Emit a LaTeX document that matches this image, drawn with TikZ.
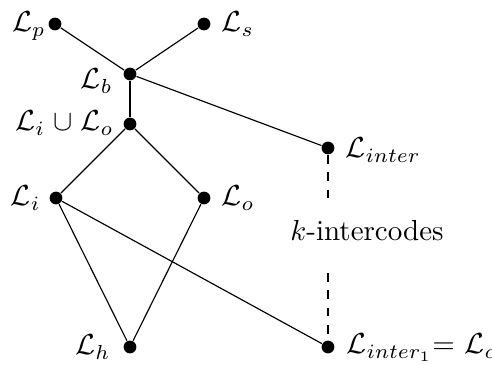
\documentclass[tikz,border=0pt]{standalone}
\begin{document}
\begin{tikzpicture}[x=0.345pt,y=-0.345pt,
  vtx/.style={circle,fill=black,inner sep=0pt,minimum size=4.4pt},
  lab/.style={inner sep=0pt},
  edge/.style={line width=0.4pt},
  dashedge/.style={line width=0.4pt,dashed}]
\useasboundingbox (0,0) rectangle (492,365);
% vertices
\node[vtx] (p) at (55,24) {};
\node[vtx] (s) at (204,24) {};
\node[vtx] (b) at (130,74) {};
\node[vtx] (io) at (130,124) {};
\node[vtx] (inter) at (328,148) {};
\node[vtx] (i) at (56,198) {};
\node[vtx] (o) at (204,198) {};
\node[vtx] (h) at (130,347) {};
\node[vtx] (inter1) at (328,347) {};
% labels
\node[lab,anchor=base east] (lp) at (46,32) {$\mathcal{L}_p$};
\node[lab,anchor=base west] (ls) at (221,32) {$\mathcal{L}_s$};
\node[lab,anchor=base east] (lb) at (113,89) {$\mathcal{L}_b$};
\node[lab,anchor=base east] (lio) at (114,131) {$\mathcal{L}_i\mathrel{\cup}\mathcal{L}_o$};
\node[lab,anchor=base west] (linter) at (345,158) {$\mathcal{L}_{inter}$};
\node[lab,anchor=base east] (li) at (41,206) {$\mathcal{L}_i$};
\node[lab,anchor=base west] (lo) at (221,206) {$\mathcal{L}_o$};
\node[lab,anchor=base east] (lh) at (111,355) {$\mathcal{L}_h$};
\node[lab,anchor=base west] (linter1) at (346,354) {$\mathcal{L}_{inter_1}$= $\mathcal{L}_c$};
\node[lab,anchor=base] (kint) at (367,241) {$k$-intercodes};
% edges
\draw[edge] (p) -- (b);
\draw[edge] (s) -- (b);
\draw[edge] (b) -- (io);
\draw[edge] (b) -- (inter);
\draw[edge] (io) -- (i);
\draw[edge] (io) -- (o);
\draw[edge] (i) -- (h);
\draw[edge] (o) -- (h);
\draw[edge] (i) -- (inter1);
\coordinate (d1) at (328,198);
\coordinate (d2) at (328,273);
\draw[dashedge] (inter) -- (d1);
\draw[dashedge] (d2) -- (inter1);
\end{tikzpicture}
\end{document}
